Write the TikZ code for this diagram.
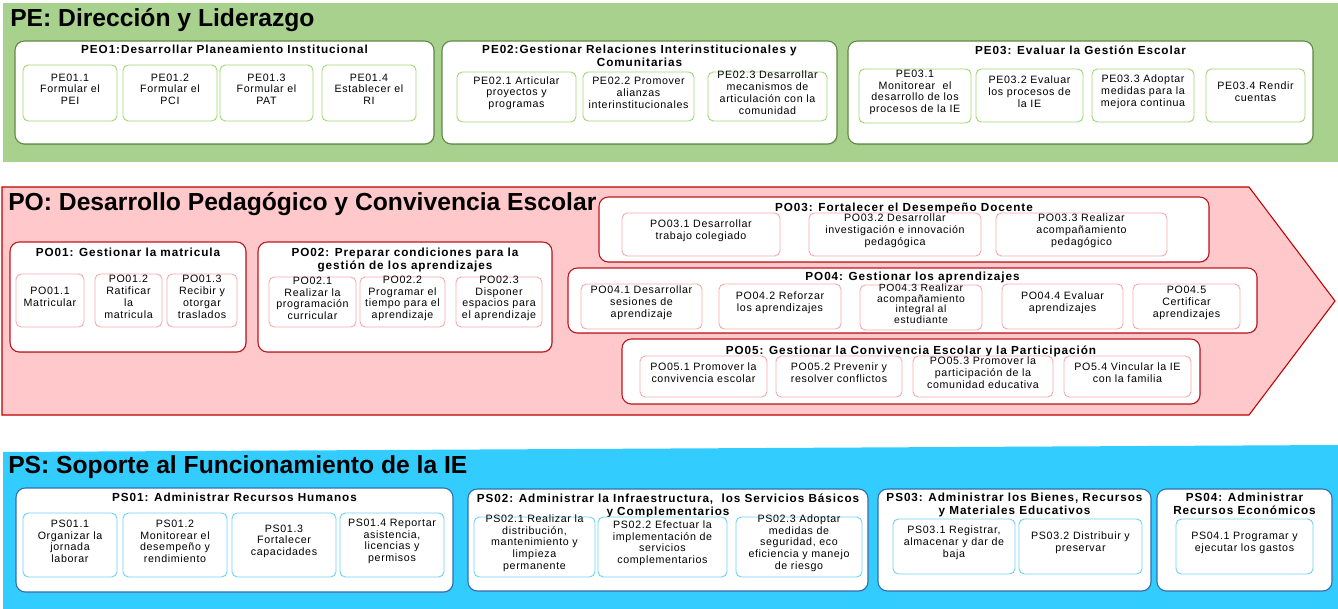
\documentclass[tikz,border=0pt]{standalone}
\usepackage{fontspec}
\setmainfont{Liberation Sans}
\newfontfamily\subfont[LetterSpace=6]{Liberation Sans}
\newfontfamily\headfont[LetterSpace=8]{Liberation Sans}
\usetikzlibrary{positioning, fit, shadows}
\newcommand{\subsize}{\fontsize{8pt}{8.8pt}\subfont}
\newcommand{\tightsize}{\fontsize{7.8pt}{7.9pt}\subfont}
\newcommand{\headsize}{\fontsize{8.8pt}{9.8pt}\headfont\bfseries}
\newcommand{\bandsize}{\fontsize{18.5pt}{22pt}\selectfont\bfseries}
\definecolor{pefill}{HTML}{A9D18E}
\definecolor{pegroupline}{HTML}{5E8A45}
\definecolor{pesubline}{HTML}{A3D975}
\definecolor{pofill}{HTML}{FFC9CB}
\definecolor{poline}{HTML}{C00000}
\definecolor{pogroupline}{HTML}{C0141C}
\definecolor{posubline}{HTML}{F5AAAE}
\definecolor{psfill}{HTML}{33CCFF}
\definecolor{psgroupline}{HTML}{2F6FB0}
\definecolor{pssubline}{HTML}{6FD2F6}
\tikzstyle{bandtitle} = [% name of a family of processes
  anchor=base west,
  inner sep=0pt,
  font=\bandsize
  ]
\tikzstyle{group} = [% white frame of a process
  rectangle,
  rounded corners=7pt,
  inner sep=0pt,
  line width=0.8pt,
  fill=white,
  drop shadow={shadow xshift=0.6pt, shadow yshift=-0.8pt, opacity=0.3}
  ]
\tikzstyle{heading} = [% title of a process
  anchor=north,
  inner sep=0pt,
  align=center,
  font=\headsize
  ]
\tikzstyle{subprocess} = [% one sub-process of a process
  rectangle,
  rounded corners=4pt,
  inner sep=0pt,
  line width=0.7pt,
  fill=white,
  align=center,
  font=\subsize
  ]
\tikzstyle{pegroup} = [group, draw=pegroupline]
\tikzstyle{pogroup} = [group, draw=pogroupline]
\tikzstyle{psgroup} = [group, draw=psgroupline]
\tikzstyle{pesub} = [subprocess, draw=pesubline]
\tikzstyle{posub} = [subprocess, draw=posubline]
\tikzstyle{pssub} = [subprocess, draw=pssubline]

\begin{document}
\begin{tikzpicture}[x=0.75pt, y=-0.75pt]
\useasboundingbox (0,0) rectangle (1338,609);

%%% Bands
\fill[pefill] (3,3) rectangle (1338,162);
\filldraw[fill=pofill, draw=poline, line width=0.8pt] (2,187) -- (1249,187) -- (1335,301) -- (1249,415) -- (2,415) -- cycle;
\fill[psfill] (3,452) -- (1338,445) -- (1338,609) -- (3,609) -- cycle;

\node[bandtitle] (pet) at (10,27) {PE: Dirección y Liderazgo};
\node[bandtitle] (pot) at (8,211) {PO: Desarrollo Pedagógico y Convivencia Escolar};
\node[bandtitle] (pst) at (8,473) {PS: Soporte al Funcionamiento de la IE};

%%% PE: Direccion y Liderazgo
\node[pegroup, fit={(15,41) (434,144)}] (pe1) {};
\node[heading, below=3.5pt of pe1.north] (pe1t) {PEO1:Desarrollar Planeamiento Institucional};
\node[pesub, fit={(23,65) (117,121)}] (pe11) {PE01.1\\Formular el\\PEI};
\node[pesub, fit={(123,65) (217,121)}] (pe12) {PE01.2\\Formular el\\PCI};
\node[pesub, fit={(220,65) (313,121)}] (pe13) {PE01.3\\Formular el\\PAT};
\node[pesub, fit={(322,65) (416,121)}] (pe14) {PE01.4\\Establecer el\\RI};

\node[pegroup, fit={(442,41) (837,144)}] (pe2) {};
\node[heading, below=3.5pt of pe2.north] (pe2t) {PE02:Gestionar Relaciones Interinstitucionales y\\Comunitarias};
\node[pesub, fit={(457,72) (576,122)}] (pe21) {PE02.1 Articular\\proyectos y\\programas};
\node[pesub, fit={(583,72) (694,121)}] (pe22) {PE02.2 Promover\\alianzas\\interinstitucionales};
\node[pesub, fit={(708,72) (827,121)}] (pe23) {PE02.3 Desarrollar\\mecanismos de\\articulación con la\\comunidad};

\node[pegroup, fit={(848,41) (1313,144)}] (pe3) {};
\node[heading, below=3.5pt of pe3.north] (pe3t) {PE03: Evaluar la Gestión Escolar};
\node[pesub, fit={(859,69) (971,123)}] (pe31) {PE03.1\\Monitorear\ \ el\\desarrollo de los\\procesos de la IE};
\node[pesub, fit={(976,69) (1083,122)}] (pe32) {PE03.2 Evaluar\\los procesos de\\la IE};
\node[pesub, fit={(1092,69) (1194,122)}] (pe33) {PE03.3 Adoptar\\medidas para la\\mejora continua};
\node[pesub, fit={(1206,69) (1305,122)}] (pe34) {PE03.4 Rendir\\cuentas};

%%% PO: Desarrollo Pedagogico y Convivencia Escolar
\node[pogroup, fit={(10,242) (246,352)}] (po1) {};
\node[heading, below=5pt of po1.north] (po1t) {PO01: Gestionar la matricula};
\node[posub, fit={(16,274) (84,327)}] (po11) {PO01.1\\Matricular};
\node[posub, fit={(95,274) (162,327)}] (po12) {PO01.2\\Ratificar\\la\\matricula};
\node[posub, fit={(167,274) (237,327)}] (po13) {PO01.3\\Recibir y\\otorgar\\traslados};

\node[pogroup, fit={(258,242) (552,352)}] (po2) {};
\node[heading, below=5pt of po2.north] (po2t) {PO02: Preparar condiciones para la\\gestión de los aprendizajes};
\node[posub, fit={(269,277) (356,327)}] (po21) {PO02.1\\Realizar la\\programación\\curricular};
\node[posub, fit={(360,277) (445,327)}] (po22) {PO02.2\\Programar el\\tiempo para el\\aprendizaje};
\node[posub, fit={(456,277) (542,327)}] (po23) {PO02.3\\Disponer\\espacios para\\el aprendizaje};

\node[pogroup, fit={(599,197) (1209,262)}] (po3) {};
\node[heading, below=5pt of po3.north] (po3t) {PO03: Fortalecer el Desempeño Docente};
\node[posub, fit={(622,213) (780,256)}] (po31) {PO03.1 Desarrollar\\trabajo colegiado};
\node[posub, fit={(809,213) (981,256)}] (po32) {PO03.2 Desarrollar\\investigación e innovación\\pedagógica};
\node[posub, fit={(996,213) (1167,256)}] (po33) {PO03.3 Realizar\\acompañamiento\\pedagógico};

\node[pogroup, fit={(568,268) (1257,333)}] (po4) {};
\node[heading, below=3pt of po4.north] (po4t) {PO04: Gestionar los aprendizajes};
\node[posub, fit={(581,284) (702,329)}] (po41) {PO04.1 Desarrollar\\sesiones de\\aprendizaje};
\node[posub, fit={(719,284) (841,329)}] (po42) {PO04.2 Reforzar\\los aprendizajes};
\node[posub, fit={(860,285) (982,330)}, font=\tightsize] (po43) {PO04.3 Realizar\\acompañamiento\\integral al\\estudiante};
\node[posub, fit={(1002,284) (1123,329)}] (po44) {PO04.4 Evaluar\\aprendizajes};
\node[posub, fit={(1133,284) (1240,329)}] (po45) {PO04.5\\Certificar\\aprendizajes};

\node[pogroup, fit={(622,339) (1200,404)}] (po5) {};
\node[heading, below=5pt of po5.north] (po5t) {PO05: Gestionar la Convivencia Escolar y la Participación};
\node[posub, fit={(640,356) (767,397)}] (po51) {PO05.1 Promover la\\convivencia escolar};
\node[posub, fit={(776,356) (902,397)}] (po52) {PO05.2 Prevenir y\\resolver conflictos};
\node[posub, fit={(913,356) (1053,397)}] (po53) {PO05.3 Promover la\\participación de la\\comunidad educativa};
\node[posub, fit={(1064,356) (1191,397)}] (po54) {PO5.4 Vincular la IE\\con la familia};

%%% PS: Soporte al Funcionamiento de la IE
\node[psgroup, fit={(16,488) (453,592)}] (ps1) {};
\node[heading, below=3.8pt of ps1.north] (ps1t) {PS01: Administrar Recursos Humanos};
\node[pssub, fit={(23,513) (117,577)}] (ps11) {PS01.1\\Organizar la\\jornada\\laborar};
\node[pssub, fit={(123,513) (227,577)}] (ps12) {PS01.2\\Monitorear el\\desempeño y\\rendimiento};
\node[pssub, fit={(232,513) (336,577)}] (ps13) {PS01.3\\Fortalecer\\capacidades};
\node[pssub, fit={(340,513) (444,577)}] (ps14) {PS01.4 Reportar\\asistencia,\\licencias y\\permisos};

\node[psgroup, fit={(468,489) (868,591)}] (ps2) {};
\node[heading, below=3.5pt of ps2.north] (ps2t) {PS02: Administrar la Infraestructura,\ \ los Servicios Básicos\\y Complementarios};
\node[pssub, fit={(474,517) (595,577)}] (ps21) {PS02.1 Realizar la\\distribución,\\mantenimiento y\\limpieza\\permanente};
\node[pssub, fit={(598,517) (727,577)}] (ps22) {PS02.2 Efectuar la\\implementación de\\servicios\\complementarios};
\node[pssub, fit={(736,517) (862,577)}] (ps23) {PS02.3 Adoptar\\medidas de\\seguridad, eco\\eficiencia y manejo\\de riesgo};

\node[psgroup, fit={(878,489) (1151,591)}] (ps3) {};
\node[heading, below=3.5pt of ps3.north] (ps3t) {PS03: Administrar los Bienes, Recursos\\y Materiales Educativos};
\node[pssub, fit={(893,519) (1015,574)}] (ps31) {PS03.1 Registrar,\\almacenar y dar de\\baja};
\node[pssub, fit={(1019,519) (1142,574)}] (ps32) {PS03.2 Distribuir y\\preservar};

\node[psgroup, fit={(1157,489) (1332,591)}] (ps4) {};
\node[heading, below=3.5pt of ps4.north] (ps4t) {PS04: Administrar\\Recursos Económicos};
\node[pssub, fit={(1176,519) (1313,574)}] (ps41) {PS04.1 Programar y\\ejecutar los gastos};

\end{tikzpicture}
\end{document}
